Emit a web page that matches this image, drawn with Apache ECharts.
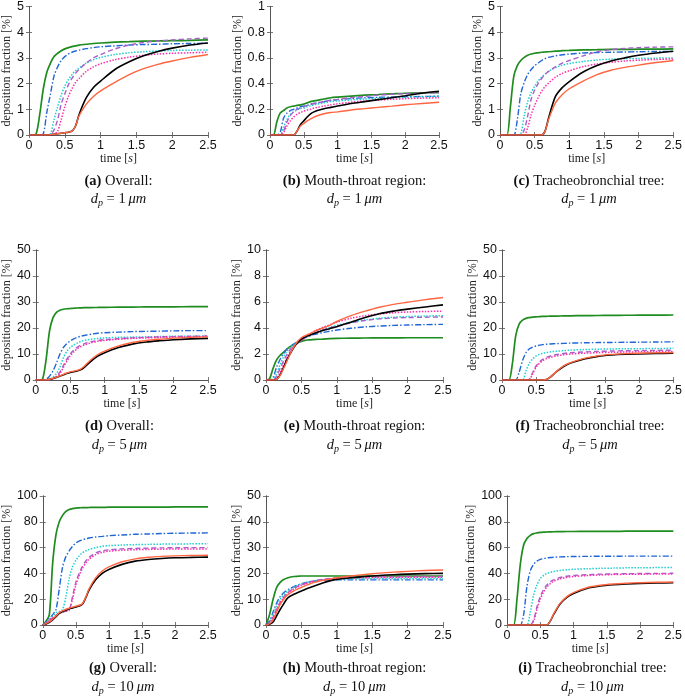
<!DOCTYPE html>
<html><head><meta charset="utf-8">
<script src="https://cdn.jsdelivr.net/npm/echarts@6/dist/echarts.min.js"></script>
<style>html,body{margin:0;padding:0;background:#fff}#c{width:685px;height:696px}</style>
</head><body><div id="c"></div>
<script>
// time samples [s]
const T = [0,0.05,0.1,0.15,0.2,0.25,0.3,0.35,0.4,0.45,0.5,0.55,0.6,0.65,0.7,0.8,0.9,1.0,1.2,1.4,1.6,1.8,2.0,2.25,2.5];
const xTicks = [0,0.5,1,1.5,2,2.5];
const yMax = [5,1,5,50,10,50,100,50,100];
const captionHead = ['(a)','(b)','(c)','(d)','(e)','(f)','(g)','(h)','(i)'];
const captionRegion = ['Overall:','Mouth-throat region:','Tracheobronchial tree:','Overall:','Mouth-throat region:','Tracheobronchial tree:','Overall:','Mouth-throat region:','Tracheobronchial tree:'];
const particleSize = ['1','1','1','5','5','5','10','10','10'];

// (a) overall, dp = 1 um
const A_green  = [0,0,0.05,0.8,1.8,2.45,2.8,3.05,3.18,3.28,3.35,3.4,3.44,3.47,3.5,3.53,3.56,3.58,3.61,3.63,3.65,3.66,3.67,3.68,3.7];
const A_blue   = [0,0,0,0,0.05,0.9,1.6,2.3,2.65,2.9,3.05,3.15,3.22,3.27,3.3,3.36,3.4,3.43,3.47,3.5,3.52,3.53,3.55,3.56,3.57];
const A_cyan   = [0,0,0,0,0,0,0.05,0.6,1.1,1.55,1.9,2.15,2.35,2.5,2.6,2.8,2.93,3.02,3.13,3.2,3.24,3.27,3.29,3.3,3.31];
const A_purple = [0,0,0,0,0,0,0.02,0.2,0.6,1.2,1.6,1.95,2.2,2.4,2.55,2.8,3.0,3.13,3.35,3.5,3.6,3.66,3.7,3.74,3.77];
const A_pink   = [0,0,0,0,0,0,0,0.02,0.15,0.6,1.1,1.5,1.8,2.05,2.2,2.48,2.65,2.77,2.93,3.03,3.1,3.15,3.18,3.2,3.22];
const A_black  = [0,0,0,0,0,0,0.01,0.03,0.05,0.07,0.09,0.11,0.15,0.35,0.8,1.45,1.85,2.1,2.55,2.85,3.08,3.25,3.38,3.5,3.58];
const A_orange = [0,0,0,0,0,0,0.01,0.03,0.05,0.07,0.09,0.11,0.15,0.35,0.75,1.2,1.5,1.72,2.05,2.35,2.58,2.75,2.88,3.02,3.13];
// (b) mouth-throat, dp = 1 um
const B_green  = [0,0,0.1,0.17,0.19,0.21,0.22,0.225,0.23,0.235,0.24,0.25,0.26,0.265,0.27,0.28,0.29,0.295,0.303,0.31,0.315,0.32,0.325,0.328,0.33];
const B_blue   = [0,0,0,0.02,0.13,0.17,0.19,0.2,0.21,0.22,0.225,0.23,0.24,0.245,0.25,0.26,0.27,0.275,0.283,0.29,0.293,0.296,0.298,0.3,0.302];
const B_cyan   = [0,0,0,0,0.06,0.12,0.16,0.18,0.195,0.205,0.21,0.22,0.228,0.235,0.24,0.25,0.26,0.265,0.273,0.28,0.285,0.29,0.293,0.297,0.3];
const B_purple = [0,0,0,0,0.03,0.1,0.15,0.18,0.2,0.21,0.22,0.23,0.24,0.245,0.25,0.26,0.27,0.277,0.29,0.3,0.31,0.317,0.322,0.327,0.33];
const B_pink   = [0,0,0,0,0.02,0.07,0.11,0.14,0.16,0.175,0.185,0.195,0.2,0.21,0.215,0.225,0.235,0.243,0.255,0.265,0.272,0.278,0.283,0.287,0.29];
const B_black  = [0,0,0,0,0,0,0,0,0.03,0.08,0.11,0.14,0.165,0.18,0.19,0.205,0.215,0.225,0.245,0.26,0.275,0.29,0.305,0.325,0.34];
const B_orange = [0,0,0,0,0,0,0,0,0.03,0.07,0.09,0.11,0.125,0.14,0.15,0.165,0.175,0.18,0.195,0.205,0.215,0.225,0.235,0.245,0.255];
// (c) tracheobronchial, dp = 1 um
const C_green  = [0,0,0,1.1,2.3,2.7,2.9,3.02,3.1,3.15,3.18,3.2,3.22,3.23,3.24,3.26,3.28,3.29,3.31,3.32,3.33,3.33,3.34,3.34,3.35];
const C_blue   = [0,0,0,0,0,0.6,1.6,2.05,2.36,2.55,2.7,2.8,2.9,2.97,3.02,3.08,3.12,3.15,3.19,3.21,3.22,3.23,3.24,3.25,3.25];
const C_cyan   = [0,0,0,0,0,0,0.05,0.75,1.3,1.65,1.9,2.1,2.25,2.38,2.48,2.62,2.72,2.78,2.86,2.92,2.95,2.97,2.98,2.99,3.0];
const C_purple = [0,0,0,0,0,0,0,0.2,0.75,1.4,1.75,2.0,2.2,2.35,2.47,2.65,2.8,2.9,3.08,3.24,3.32,3.37,3.4,3.42,3.43];
const C_pink   = [0,0,0,0,0,0,0,0,0.3,0.8,1.15,1.45,1.7,1.88,2.02,2.25,2.4,2.5,2.66,2.76,2.83,2.88,2.91,2.94,2.96];
const C_black  = [0,0,0,0,0,0,0,0,0,0,0,0,0,0.15,0.65,1.5,1.85,2.08,2.45,2.7,2.88,3.0,3.1,3.19,3.26];
const C_orange = [0,0,0,0,0,0,0,0,0,0,0,0,0,0.15,0.6,1.25,1.58,1.8,2.1,2.35,2.52,2.63,2.72,2.82,2.9];
// (d) overall, dp = 5 um
const D_green  = [0,0,0.5,8,19,24,26,26.8,27.2,27.4,27.5,27.6,27.7,27.75,27.8,27.85,27.9,27.95,28,28.05,28.1,28.1,28.15,28.2,28.2];
const D_blue   = [0,0,0,0.3,1.5,3.5,6.5,10,12.5,14,15,15.8,16.4,16.8,17.1,17.6,18,18.2,18.4,18.6,18.7,18.8,18.9,19,19];
const D_cyan   = [0,0,0,0,0.3,1.2,2.5,5,8.5,11,12.5,13.5,14.2,14.8,15.2,15.7,16,16.2,16.4,16.5,16.6,16.7,16.8,16.8,16.9];
const D_purple = [0,0,0,0,0.1,0.5,1.5,3,5.5,8,10,11.5,12.6,13.3,13.9,14.7,15.2,15.5,15.9,16.2,16.4,16.6,16.7,16.8,16.9];
const D_pink   = [0,0,0,0,0.1,0.4,1.2,2.5,4.8,7.2,9.3,10.8,12,12.8,13.4,14.3,14.9,15.2,15.7,16,16.2,16.4,16.5,16.6,16.7];
const D_black  = [0,0,0,0.1,0.3,0.6,1,1.5,2,2.5,2.9,3.2,3.5,3.9,4.8,7.2,9.2,10.5,12.5,13.8,14.6,15.1,15.5,15.8,16];
const D_orange = [0,0,0,0.1,0.3,0.6,1.1,1.6,2.2,2.7,3.1,3.4,3.7,4.2,5.2,7.8,9.8,11.1,13.1,14.4,15.2,15.7,16.1,16.4,16.6];
// (e) mouth-throat, dp = 5 um
const E_green  = [0,0.1,0.9,1.55,1.9,2.15,2.4,2.6,2.75,2.87,2.97,3.05,3.08,3.1,3.12,3.15,3.18,3.2,3.22,3.23,3.24,3.24,3.25,3.25,3.25];
const E_blue   = [0,0,0.2,1.0,1.6,2.05,2.4,2.6,2.8,2.95,3.1,3.25,3.35,3.45,3.52,3.65,3.75,3.85,3.98,4.08,4.15,4.2,4.23,4.26,4.28];
const E_cyan   = [0,0,0.05,0.5,1.2,1.8,2.25,2.55,2.75,2.9,3.1,3.3,3.45,3.6,3.7,3.9,4.05,4.2,4.45,4.62,4.75,4.83,4.88,4.92,4.95];
const E_purple = [0,0,0,0.3,0.9,1.5,2.0,2.4,2.65,2.85,3.05,3.25,3.4,3.55,3.65,3.85,4.0,4.15,4.4,4.58,4.7,4.77,4.8,4.83,4.85];
const E_pink   = [0,0,0,0.15,0.6,1.2,1.75,2.25,2.6,2.85,3.05,3.3,3.5,3.65,3.8,4.05,4.25,4.45,4.75,4.95,5.08,5.17,5.23,5.27,5.3];
const E_black  = [0,0,0,0.05,0.4,1.0,1.6,2.1,2.55,2.9,3.15,3.3,3.42,3.52,3.62,3.8,3.95,4.1,4.45,4.8,5.1,5.3,5.45,5.62,5.78];
const E_orange = [0,0,0,0.05,0.35,0.9,1.5,2.1,2.6,3.0,3.25,3.4,3.52,3.65,3.78,4.0,4.2,4.5,4.95,5.3,5.6,5.82,5.98,6.18,6.35];
// (f) tracheobronchial, dp = 5 um
const F_green  = [0,0,0,6,17,21.5,23,23.7,24,24.2,24.3,24.4,24.45,24.5,24.55,24.6,24.65,24.7,24.75,24.8,24.85,24.9,24.92,24.95,25];
const F_blue   = [0,0,0,0,0,3,7.5,10.5,12,12.7,13.1,13.4,13.6,13.75,13.85,14,14.1,14.2,14.3,14.4,14.45,14.5,14.55,14.6,14.7];
const F_cyan   = [0,0,0,0,0,0,0,3.5,6.5,8.2,9.3,9.9,10.3,10.6,10.8,11.1,11.3,11.5,11.7,11.85,11.95,12,12.05,12.1,12.2];
const F_purple = [0,0,0,0,0,0,0,0,0.3,3,5.5,7,8,8.7,9.2,9.8,10.2,10.5,10.8,11,11.15,11.25,11.3,11.4,11.5];
const F_pink   = [0,0,0,0,0,0,0,0,0.2,2.6,5,6.5,7.5,8.2,8.7,9.3,9.7,10,10.3,10.5,10.65,10.75,10.85,10.95,11.0];
const F_black  = [0,0,0,0,0,0,0,0,0,0,0,0,0,0.2,1.0,3.3,5.2,6.5,8.1,9.1,9.6,9.9,10.05,10.2,10.3];
const F_orange = [0,0,0,0,0,0,0,0,0,0,0,0,0,0.2,1.0,3.4,5.4,6.7,8.3,9.3,9.85,10.15,10.3,10.45,10.55];
// (g) overall, dp = 10 um
const G_green  = [0,3,8,48,70,80,85,88,89.5,90.2,90.6,90.8,91,91,91.1,91.2,91.2,91.3,91.3,91.4,91.4,91.4,91.5,91.5,91.5];
const G_blue   = [0,2,5,8,12,28,45,53,57.5,61,63.5,65,66,66.8,67.4,68.2,68.7,69.2,69.8,70.3,70.6,70.9,71.1,71.3,71.4];
const G_cyan   = [0,2,4.5,7,9.5,10.5,12,22,36,45,50,53.5,56,57.5,58.5,60,61,61.5,62,62.3,62.5,62.7,62.8,62.9,63];
const G_purple = [0,1.5,3.5,5.5,7.5,9,10,10.8,11.5,22,33,40,45.5,49.5,52.5,55.8,57.5,58.3,59,59.4,59.6,59.8,59.9,60,60];
const G_pink   = [0,1.5,3.5,5.5,7.5,9,10,10.8,11.5,20,31,38,44,48,51,54.5,56.3,57.2,58,58.4,58.6,58.8,58.9,59,59];
const G_black  = [0,0.8,2,4,6.5,9,10.5,11.5,12.5,13.2,14,14.8,16,21,27,35,40,43,47,49.5,50.8,51.6,52.1,52.4,52.6];
const G_orange = [0,1,2.5,4.5,7,9.5,11,12.2,13,13.8,14.5,15.3,16.5,21.5,28,36.5,41.8,45,49,51.3,52.5,53.2,53.6,53.9,54.1];
// (h) mouth-throat, dp = 10 um
const H_green  = [0,4,10,14.5,16.5,17.6,18.2,18.6,18.8,18.9,19,19,19,19,19,19,19,19,19,19,19,19,19,19,19];
const H_blue   = [0,1.5,5,8.5,11,12.5,13.5,14.3,15,15.5,16,16.4,16.7,16.9,17.1,17.3,17.4,17.5,17.5,17.5,17.5,17.5,17.5,17.5,17.5];
const H_cyan   = [0,1,4,7.5,10,11.8,13,14,14.8,15.4,15.9,16.3,16.7,17,17.2,17.5,17.7,17.8,17.9,18,18,18,18,18,18];
const H_purple = [0,0.8,3,6,8.8,10.8,12.3,13.4,14.3,15,15.6,16.1,16.5,16.9,17.2,17.7,18,18.3,18.5,18.6,18.7,18.7,18.8,18.8,18.8];
const H_pink   = [0,0.8,3,6,8.6,10.6,12.1,13.2,14.1,14.8,15.4,15.9,16.3,16.7,17,17.5,17.8,18,18.2,18.3,18.4,18.4,18.5,18.5,18.5];
const H_black  = [0,0.3,1.2,3.5,6,8.2,10.3,11.3,12,12.6,13.2,13.8,14.3,14.8,15.3,16.3,17.1,17.7,18.3,18.8,19.2,19.5,19.7,19.9,20];
const H_orange = [0,0.5,2,5,8,10,11.5,12.5,13.3,14,14.6,15.2,15.7,16.2,16.6,17.3,17.8,18.3,19,19.6,20.1,20.5,20.8,21.1,21.3];
// (i) tracheobronchial, dp = 10 um
const I_green  = [0,0,0,20,47,62,67,69.5,70.8,71.4,71.8,72,72.1,72.2,72.3,72.4,72.5,72.5,72.6,72.6,72.6,72.7,72.7,72.7,72.7];
const I_blue   = [0,0,0,0,0,8,30,42,47,49.5,50.8,51.5,52,52.3,52.5,52.8,53,53.1,53.2,53.3,53.3,53.4,53.4,53.4,53.4];
const I_cyan   = [0,0,0,0,0,0,0,10,23,31,36,38.5,40,40.8,41.5,42.3,42.8,43.2,43.6,43.9,44.1,44.3,44.4,44.5,44.6];
const I_purple = [0,0,0,0,0,0,0,0,4,14,22,27.5,31,33.5,35,36.8,37.8,38.4,39,39.4,39.6,39.8,39.9,40,40.1];
const I_pink   = [0,0,0,0,0,0,0,0,3,12,20,25.5,29.5,32,33.8,35.8,36.9,37.6,38.3,38.8,39.1,39.3,39.4,39.5,39.6];
const I_black  = [0,0,0,0,0,0,0,0,0,0,0,0,0,3,8,16.5,21.5,24.5,28.3,30.2,31.2,31.8,32.2,32.5,32.7];
const I_orange = [0,0,0,0,0,0,0,0,0,0,0,0,0,3.2,8.5,17,22,25.1,28.9,30.8,31.8,32.4,32.8,33.1,33.3];

const panels = [
  [A_green,A_blue,A_cyan,A_purple,A_pink,A_black,A_orange],
  [B_green,B_blue,B_cyan,B_purple,B_pink,B_black,B_orange],
  [C_green,C_blue,C_cyan,C_purple,C_pink,C_black,C_orange],
  [D_green,D_blue,D_cyan,D_purple,D_pink,D_black,D_orange],
  [E_green,E_blue,E_cyan,E_purple,E_pink,E_black,E_orange],
  [F_green,F_blue,F_cyan,F_purple,F_pink,F_black,F_orange],
  [G_green,G_blue,G_cyan,G_purple,G_pink,G_black,G_orange],
  [H_green,H_blue,H_cyan,H_purple,H_pink,H_black,H_orange],
  [I_green,I_blue,I_cyan,I_purple,I_pink,I_black,I_orange]
];

// ---- layout & styles ----
const layout = [
  {l:29,t:5,w:179,h:130,g:13},{l:270,t:5,w:169,h:130,g:23.5},{l:500,t:5,w:178,h:130,g:14},
  {l:31,t:250,w:177,h:130,g:17},{l:266,t:250,w:177,h:130,g:20},{l:502,t:250,w:176,h:130,g:19},
  {l:38,t:496,w:170,h:129,g:26},{l:266,t:496,w:177,h:129,g:22},{l:507,t:496,w:171,h:129,g:23}
];
const capY = [[174,190],[174,190],[174,190],[419,436],[419,436],[419,436],[661,678],[661,678],[661,678]];
const styles = [
  {color:'#1e8c1e', type:'solid', width:1.7},
  {color:'#1f66d6', type:[6,2,1.5,2], width:1.4},
  {color:'#1fd0d0', type:[1.5,1.5], width:1.5},
  {color:'#a95fc9', type:[5,3], width:1.4},
  {color:'#ff2fa8', type:[1.5,1.5], width:1.5},
  {color:'#000000', type:'solid', width:1.6},
  {color:'#ff6540', type:'solid', width:1.4}
];
const SANS = 'Liberation Sans';
const SERIF = 'Liberation Serif';
const boxColor = '#555';

const grid = [], xAxis = [], yAxis = [], series = [], title = [];
layout.forEach((L, i) => {
  grid.push({left:L.l, top:L.t, width:L.w, height:L.h, show:false, containLabel:false});
  const ymax = yMax[i];
  const tickCommon = {show:true, inside:true, length:3, lineStyle:{color:boxColor, width:0.8}};
  xAxis.push({
    type:'value', gridIndex:i, min:0, max:2.5, interval:0.5, position:'bottom',
    axisLine:{show:true, lineStyle:{color:boxColor, width:1}},
    axisTick:tickCommon, splitLine:{show:false},
    axisLabel:{color:'#111', fontFamily:SANS, fontSize:12.5, margin:4, formatter:v=>String(v)},
    name:'time [{i|s}]', nameLocation:'middle', nameGap:17,
    nameTextStyle:{fontFamily:SERIF, fontSize:12, color:'#222',
      rich:{i:{fontFamily:SERIF, fontSize:12, fontStyle:'italic', color:'#222'}}}
  });
  xAxis.push({
    type:'value', gridIndex:i, min:0, max:2.5, interval:0.5, position:'top',
    axisLine:{show:true, lineStyle:{color:boxColor, width:1}},
    axisTick:tickCommon, axisLabel:{show:false}, splitLine:{show:false}
  });
  yAxis.push({
    type:'value', gridIndex:i, min:0, max:ymax, interval:ymax/5, position:'left',
    axisLine:{show:true, lineStyle:{color:boxColor, width:1}},
    axisTick:tickCommon, splitLine:{show:false},
    axisLabel:{color:'#111', fontFamily:SANS, fontSize:12.5, margin:5, formatter:v=>String(+v.toFixed(2))},
    name:'deposition fraction [%]', nameLocation:'middle', nameGap:L.g,
    nameTextStyle:{fontFamily:SERIF, fontSize:12, color:'#222'}
  });
  yAxis.push({
    type:'value', gridIndex:i, min:0, max:ymax, interval:ymax/5, position:'right',
    axisLine:{show:true, lineStyle:{color:boxColor, width:1}},
    axisTick:tickCommon, axisLabel:{show:false}, splitLine:{show:false}
  });
  panels[i].forEach((vals, k) => {
    const st = styles[k];
    series.push({
      type:'line', xAxisIndex:2*i, yAxisIndex:2*i, showSymbol:false, symbol:'none',
      smooth:0.3, clip:true, animation:false,
      data: T.map((t, j) => [t, vals[j]]),
      lineStyle:{color:st.color, type:st.type, width:st.width},
      z: 2 + k
    });
  });
  const cx = L.l + L.w/2;
  title.push({
    text:'{b|' + captionHead[i] + '} ' + captionRegion[i], left:cx, top:capY[i][0], textAlign:'center', padding:0,
    textStyle:{fontFamily:SERIF, fontSize:14.5, fontWeight:'normal', color:'#111',
      rich:{b:{fontFamily:SERIF, fontSize:14.5, fontWeight:'bold', color:'#111'}}}
  });
  title.push({
    text:'{i|d}{s|p}{n| = ' + particleSize[i] + '\u2009}{i|\u03bcm}', left:cx, top:capY[i][1], textAlign:'center', padding:0,
    textStyle:{fontFamily:SERIF, fontSize:14.5, fontWeight:'normal', color:'#111',
      rich:{
        i:{fontFamily:SERIF, fontSize:14.5, fontStyle:'italic', color:'#111', lineHeight:18},
        n:{fontFamily:SERIF, fontSize:14.5, color:'#111', lineHeight:18},
        s:{fontFamily:SERIF, fontSize:10, fontStyle:'italic', color:'#111', lineHeight:12, verticalAlign:'bottom'}
      }}
  });
});

const chart = echarts.init(document.getElementById('c'), null, {renderer:'canvas'});
chart.setOption({animation:false, backgroundColor:'#fff', title, grid, xAxis, yAxis, series});
</script>
</body></html>
